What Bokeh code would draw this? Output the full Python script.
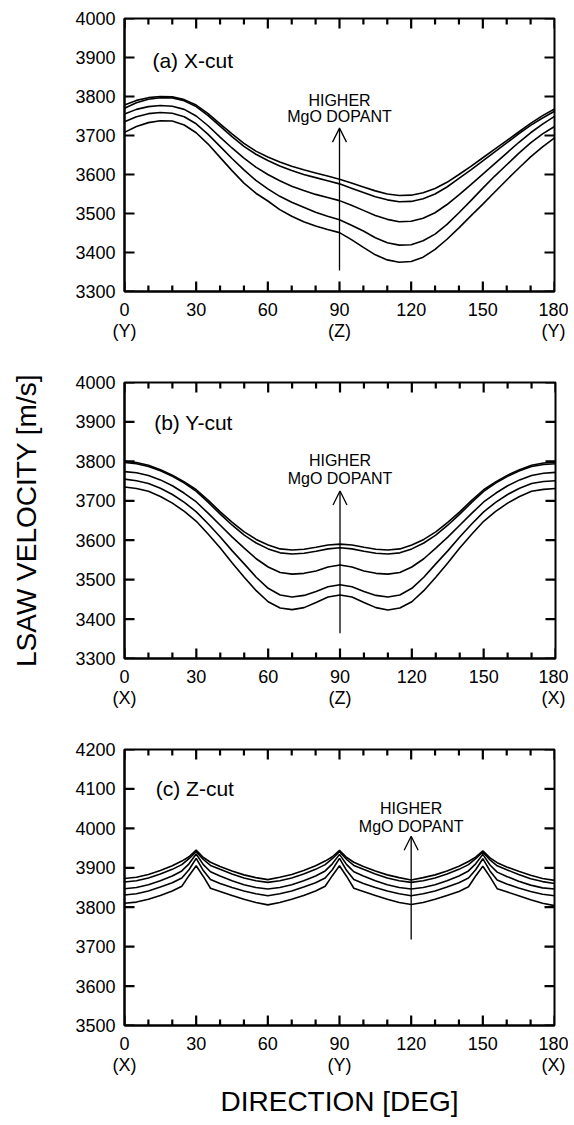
from bokeh.plotting import figure
from bokeh.layouts import column
from bokeh.models import Range1d, FixedTicker, LinearAxis, Label, Arrow, OpenHead
from bokeh.embed import file_html
from bokeh.resources import INLINE

FONT = "Liberation Sans"

# ---------------- data ----------------
DEG_AB = [0, 5, 10, 15, 20, 25, 30, 35, 40, 45, 50, 55, 60, 65, 70, 75, 80, 85, 90,
          95, 100, 105, 110, 115, 120, 125, 130, 135, 140, 145, 150, 155, 160, 165, 170, 175, 180]

# (a) X-cut, lowest -> highest MgO
xcut_1 = [3708, 3723, 3733, 3738, 3737, 3727, 3707, 3678, 3644, 3610, 3578, 3552, 3532, 3510, 3493, 3479, 3468, 3459, 3451,
          3433, 3413, 3394, 3381, 3375, 3377, 3388, 3408, 3434, 3463, 3494, 3524, 3555, 3586, 3616, 3645, 3671, 3694]
xcut_2 = [3735, 3748, 3756, 3759, 3757, 3748, 3730, 3703, 3672, 3641, 3612, 3585, 3563, 3544, 3529, 3516, 3503, 3493, 3484,
          3470, 3455, 3438, 3425, 3419, 3420, 3430, 3447, 3472, 3502, 3533, 3565, 3596, 3625, 3654, 3681, 3704, 3723]
xcut_3 = [3755, 3767, 3774, 3777, 3775, 3767, 3750, 3725, 3696, 3668, 3642, 3619, 3600, 3584, 3570, 3559, 3549, 3541, 3533,
          3521, 3508, 3495, 3485, 3479, 3480, 3488, 3502, 3523, 3548, 3574, 3601, 3628, 3655, 3682, 3707, 3729, 3749]
xcut_4 = [3770, 3784, 3793, 3797, 3796, 3789, 3774, 3751, 3724, 3697, 3672, 3652, 3636, 3622, 3610, 3600, 3592, 3584, 3576,
          3565, 3554, 3543, 3535, 3530, 3531, 3538, 3550, 3568, 3590, 3612, 3635, 3658, 3681, 3704, 3726, 3745, 3762]
xcut_5 = [3778, 3790, 3797, 3800, 3799, 3792, 3778, 3756, 3730, 3704, 3680, 3660, 3645, 3632, 3621, 3612, 3604, 3596, 3588,
          3578, 3568, 3558, 3550, 3546, 3547, 3553, 3564, 3580, 3600, 3621, 3643, 3665, 3687, 3709, 3731, 3751, 3768]

# (b) Y-cut
ycut_1 = [3735, 3731, 3724, 3711, 3694, 3673, 3648, 3615, 3580, 3542, 3506, 3472, 3444, 3428, 3424, 3429, 3442, 3456, 3461,
          3456, 3442, 3429, 3423, 3428, 3444, 3472, 3506, 3542, 3580, 3615, 3648, 3673, 3694, 3711, 3724, 3729, 3731]
ycut_2 = [3755, 3751, 3744, 3732, 3716, 3696, 3672, 3641, 3608, 3573, 3540, 3506, 3478, 3461, 3456, 3460, 3470, 3482, 3487,
          3482, 3470, 3460, 3456, 3461, 3478, 3506, 3540, 3573, 3608, 3641, 3672, 3696, 3716, 3732, 3744, 3749, 3751]
ycut_3 = [3774, 3771, 3764, 3753, 3738, 3719, 3697, 3668, 3638, 3608, 3580, 3553, 3532, 3518, 3514, 3516, 3522, 3532, 3537,
          3532, 3522, 3516, 3514, 3518, 3532, 3553, 3580, 3608, 3638, 3668, 3697, 3719, 3738, 3753, 3764, 3770, 3772]
ycut_4 = [3797, 3794, 3787, 3776, 3762, 3745, 3724, 3696, 3666, 3638, 3613, 3593, 3578, 3568, 3565, 3567, 3572, 3578, 3581,
          3578, 3572, 3567, 3565, 3568, 3578, 3593, 3613, 3638, 3666, 3696, 3724, 3745, 3762, 3776, 3787, 3792, 3794]
ycut_5 = [3800, 3797, 3790, 3779, 3765, 3748, 3728, 3701, 3672, 3645, 3621, 3602, 3588, 3578, 3575, 3577, 3582, 3588, 3590,
          3588, 3582, 3577, 3575, 3578, 3588, 3602, 3621, 3645, 3672, 3701, 3728, 3748, 3765, 3779, 3790, 3796, 3798]

# (c) Z-cut
DEG_C = [0, 5, 10, 15, 20, 24, 27, 30, 33, 36, 40, 45, 50, 55, 60,
         65, 70, 75, 80, 84, 87, 90, 93, 96, 100, 105, 110, 115, 120,
         125, 130, 135, 140, 144, 147, 150, 153, 156, 160, 165, 170, 175, 180]
zcut_1 = [3810, 3813, 3820, 3830, 3841, 3853, 3880, 3905, 3878, 3848, 3840, 3830, 3820, 3812, 3806,
          3812, 3820, 3830, 3841, 3853, 3880, 3905, 3878, 3848, 3840, 3830, 3820, 3812, 3807,
          3812, 3820, 3830, 3840, 3852, 3879, 3904, 3877, 3847, 3839, 3829, 3819, 3810, 3804]
zcut_2 = [3831, 3834, 3841, 3851, 3862, 3874, 3895, 3924, 3893, 3870, 3860, 3850, 3841, 3834, 3829,
          3834, 3841, 3851, 3862, 3874, 3895, 3924, 3893, 3870, 3860, 3850, 3841, 3834, 3829,
          3834, 3841, 3851, 3862, 3874, 3895, 3923, 3892, 3869, 3859, 3849, 3840, 3833, 3829]
zcut_3 = [3847, 3850, 3857, 3867, 3879, 3892, 3910, 3935, 3908, 3890, 3879, 3867, 3857, 3850, 3846,
          3850, 3857, 3867, 3879, 3892, 3910, 3934, 3908, 3890, 3879, 3867, 3857, 3850, 3846,
          3850, 3857, 3867, 3879, 3892, 3910, 3934, 3907, 3889, 3878, 3866, 3856, 3849, 3846]
zcut_4 = [3864, 3867, 3874, 3884, 3896, 3908, 3923, 3941, 3921, 3906, 3896, 3884, 3874, 3867, 3863,
          3867, 3874, 3884, 3896, 3908, 3923, 3941, 3921, 3906, 3896, 3884, 3874, 3867, 3863,
          3867, 3874, 3884, 3896, 3908, 3923, 3940, 3920, 3905, 3895, 3883, 3872, 3865, 3860]
zcut_5 = [3873, 3876, 3883, 3893, 3905, 3917, 3928, 3945, 3926, 3914, 3903, 3892, 3882, 3875, 3870,
          3876, 3883, 3893, 3905, 3917, 3928, 3944, 3926, 3914, 3903, 3892, 3882, 3875, 3869,
          3875, 3882, 3892, 3904, 3916, 3927, 3943, 3925, 3913, 3902, 3891, 3881, 3873, 3868]

X_MAJOR = [0, 30, 60, 90, 120, 150, 180]
X_MINOR = [10, 20, 40, 50, 70, 80, 100, 110, 130, 140, 160, 170]
YTICKS_AB = [3300, 3400, 3500, 3600, 3700, 3800, 3900, 4000]
YTICKS_C = [3500, 3600, 3700, 3800, 3900, 4000, 4100, 4200]

SUB_A = {0: "0\n(Y)", 90: "90\n(Z)", 180: "180\n(Y)"}
SUB_B = {0: "0\n(X)", 90: "90\n(Z)", 180: "180\n(X)"}
SUB_C = {0: "0\n(X)", 90: "90\n(Y)", 180: "180\n(X)"}


def style_axis(ax, is_x=True):
    ax.axis_line_color = "black"
    ax.axis_line_width = 2
    ax.major_tick_line_color = None
    ax.minor_tick_line_color = None
    ax.major_tick_in = 0
    ax.major_tick_out = 0
    ax.minor_tick_in = 0
    ax.minor_tick_out = 0
    ax.major_label_text_font = FONT
    ax.major_label_text_font_size = "18px"
    ax.major_label_text_color = "black"
    ax.major_label_standoff = 8 if is_x else 9


def make_panel(deg, curves, yr, yticks, subs, tag, tag_xy, ann, lb, rb, tb, bb, fw, fh):
    p = figure(frame_width=fw, frame_height=fh,
               x_range=Range1d(0, 180), y_range=Range1d(*yr),
               output_backend="svg", toolbar_location=None,
               min_border_left=lb, min_border_right=rb,
               min_border_top=tb, min_border_bottom=bb,
               x_axis_location=None, y_axis_location=None)
    p.grid.visible = False
    p.outline_line_color = "black"
    p.outline_line_width = 2
    p.border_fill_color = "white"

    xt = FixedTicker(ticks=X_MAJOR, minor_ticks=[])
    yt = FixedTicker(ticks=yticks, minor_ticks=[])

    bottom = LinearAxis(ticker=xt)
    style_axis(bottom, is_x=True)
    bottom.major_label_overrides = subs
    bottom.major_label_text_line_height = 1.05
    p.add_layout(bottom, "below")

    left = LinearAxis(ticker=yt)
    style_axis(left, is_x=False)
    p.add_layout(left, "left")

    # inward tick marks on all four frame sides; pixel lengths converted to data units
    ylo, yhi = yr
    dy = (yhi - ylo) / fh
    dx = 180.0 / fw
    xs, ys = [], []
    for t in X_MAJOR:
        xs += [[t, t], [t, t]]
        ys += [[ylo, ylo + 10 * dy], [yhi, yhi - 10 * dy]]
    for t in X_MINOR:
        xs += [[t, t], [t, t]]
        ys += [[ylo, ylo + 6 * dy], [yhi, yhi - 6 * dy]]
    for t in yticks:
        xs += [[0, 10 * dx], [180, 180 - 10 * dx]]
        ys += [[t, t], [t, t]]
    p.multi_line(xs=xs, ys=ys, line_color="black", line_width=2.2)

    for c in curves:
        p.line(deg, c, line_color="black", line_width=1.6)

    p.add_layout(Label(x=tag_xy[0], y=tag_xy[1], text=tag, text_font=FONT,
                       text_font_size="21px", text_color="black",
                       text_align="left", text_baseline="middle"))
    ax_x, y_tail, y_tip, y_h1, y_h2 = ann
    p.add_layout(Arrow(end=OpenHead(size=14, line_width=1.3, line_color="black"),
                       x_start=ax_x, y_start=y_tail, x_end=ax_x, y_end=y_tip,
                       line_width=1.3, line_color="black"))
    p.add_layout(Label(x=ax_x, y=y_h1, text="HIGHER", text_font=FONT,
                       text_font_size="16px", text_color="black",
                       text_align="center", text_baseline="middle"))
    p.add_layout(Label(x=ax_x, y=y_h2, text="MgO DOPANT", text_font=FONT,
                       text_font_size="16px", text_color="black",
                       text_align="center", text_baseline="middle"))
    return p, left, bottom


pa, la, ba = make_panel(DEG_AB, [xcut_1, xcut_2, xcut_3, xcut_4, xcut_5], (3300, 4000), YTICKS_AB,
                        SUB_A, "(a) X-cut", (11.7, 3893), (90, 3354, 3719, 3791, 3750),
                        124, 14, 18, 77, 430, 273)
pb, lb_, bb_ = make_panel(DEG_AB, [ycut_1, ycut_2, ycut_3, ycut_4, ycut_5], (3300, 4000), YTICKS_AB,
                          SUB_B, "(b) Y-cut", (12.4, 3899), (90, 3364, 3725, 3802, 3757),
                          121, 16, 14, 80, 431, 276)
pc, lc, bc = make_panel(DEG_C, [zcut_1, zcut_2, zcut_3, zcut_4, zcut_5], (3500, 4200), YTICKS_C,
                        SUB_C, "(c) Z-cut", (13.1, 4100), (120, 3718, 3980, 4051, 4005),
                        121, 17, 11, 90, 430, 276)

lb_.axis_label = "LSAW VELOCITY [m/s]"
lb_.axis_label_text_font = FONT
lb_.axis_label_text_font_size = "28px"
lb_.axis_label_text_font_style = "normal"
lb_.axis_label_text_color = "black"
lb_.axis_label_standoff = 30

bc.axis_label = "DIRECTION [DEG]"
bc.axis_label_text_font = FONT
bc.axis_label_text_font_size = "28px"
bc.axis_label_text_font_style = "normal"
bc.axis_label_text_color = "black"
bc.axis_label_standoff = 8

layout = column(pa, pb, pc, spacing=0)
open("out.html", "w").write(file_html(layout, INLINE))
